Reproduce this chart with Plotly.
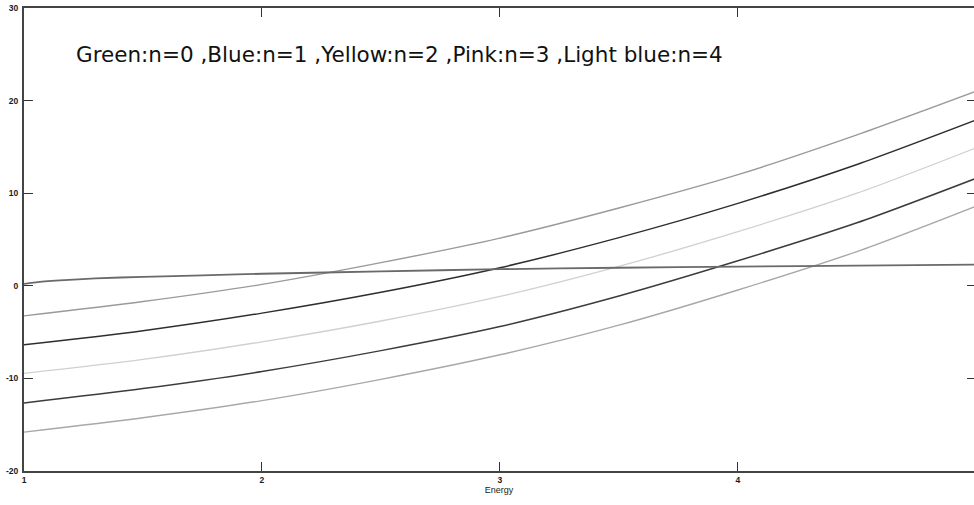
import plotly.graph_objects as go

# Energy sample points
energy = [1.0, 1.5, 2.0, 2.5, 3.0, 3.5, 4.0, 4.5, 5.0]
n1 = [-3.25, -1.7, 0.15, 2.5, 5.15, 8.4, 12.0, 16.3, 21.0]
n2 = [-6.37, -4.85, -2.95, -0.7, 1.95, 5.2, 8.9, 13.1, 17.9]
n3 = [-9.45, -7.95, -6.05, -3.8, -1.15, 2.1, 5.85, 10.0, 14.9]
n4 = [-12.65, -11.1, -9.25, -7.0, -4.4, -1.1, 2.7, 6.8, 11.6]
n5 = [-15.8, -14.25, -12.4, -10.1, -7.45, -4.25, -0.45, 3.7, 8.6]

energy0 = [1.0, 1.05, 1.15, 1.3, 1.5, 1.75, 2.0, 2.5, 3.0, 3.5, 4.0, 4.5, 5.0]
n0 = [0.2, 0.38, 0.58, 0.8, 0.97, 1.12, 1.3, 1.55, 1.8, 1.95, 2.08, 2.18, 2.28]

x_ticks = [1, 2, 3, 4]
y_ticks = [-20, -10, 0, 10, 20, 30]
legend_text = "Green:n=0 ,Blue:n=1 ,Yellow:n=2 ,Pink:n=3 ,Light blue:n=4"

series = [
    (energy, n1, "#9a9a9a", 1.4),
    (energy, n2, "#2e2e2e", 1.5),
    (energy, n3, "#d0d0d0", 1.3),
    (energy, n4, "#3c3c3c", 1.5),
    (energy, n5, "#a8a8a8", 1.4),
    (energy0, n0, "#6a6a6a", 1.8),
]

fig = go.Figure()
for xs, ys, col, w in series:
    fig.add_trace(go.Scatter(x=xs, y=ys, mode="lines",
                             line=dict(color=col, width=w, shape="spline", smoothing=0.8),
                             showlegend=False, hoverinfo="skip"))

# invisible trace for right-side y ticks
fig.add_trace(go.Scatter(x=[1], y=[0], yaxis="y2", mode="markers",
                         marker=dict(opacity=0), showlegend=False, hoverinfo="skip"))

axis_font = dict(family="Liberation Sans, Arial, sans-serif", size=8.5, color="#1a1a1a", weight="bold")
title_font = dict(family="Liberation Sans, Arial, sans-serif", size=9, color="#222222")

fig.update_layout(
    width=974, height=505,
    margin=dict(l=24, r=0, t=8, b=34, autoexpand=False),
    paper_bgcolor="white", plot_bgcolor="white",
    xaxis=dict(range=[1, 4.992], tickvals=x_ticks, ticktext=[str(v) for v in x_ticks],
               ticks="inside", ticklen=9, tickwidth=1.3, tickcolor="#333333",
               showline=True, linecolor="#444444", linewidth=2, mirror="ticks",
               showgrid=False, zeroline=False, tickfont=axis_font, automargin=False,
               title=dict(text="Energy", font=title_font, standoff=2)),
    yaxis=dict(range=[-20, 30], tickvals=y_ticks, ticktext=[str(v) for v in y_ticks],
               ticks="inside", ticklen=9, tickwidth=1.3, tickcolor="#333333",
               showline=True, linecolor="#444444", linewidth=2, mirror=False,
               showgrid=False, zeroline=False, tickfont=axis_font, ticklabelstandoff=2,
               automargin=False),
    yaxis2=dict(range=[-20, 30], tickvals=y_ticks, overlaying="y", side="right",
                ticks="inside", ticklen=7, tickwidth=1.3, tickcolor="#333333",
                showline=False, showticklabels=False, showgrid=False, zeroline=False,
                automargin=False),
    annotations=[dict(text=legend_text, xref="paper", yref="paper",
                      x=0.0526, y=0.8985, xanchor="left", yanchor="middle",
                      showarrow=False,
                      font=dict(family="DejaVu Sans, Verdana, sans-serif", size=21.5, color="#111111"))],
)

fig.write_html("out.html", config={"displayModeBar": False},
               post_script="document.body.style.margin='0';")
